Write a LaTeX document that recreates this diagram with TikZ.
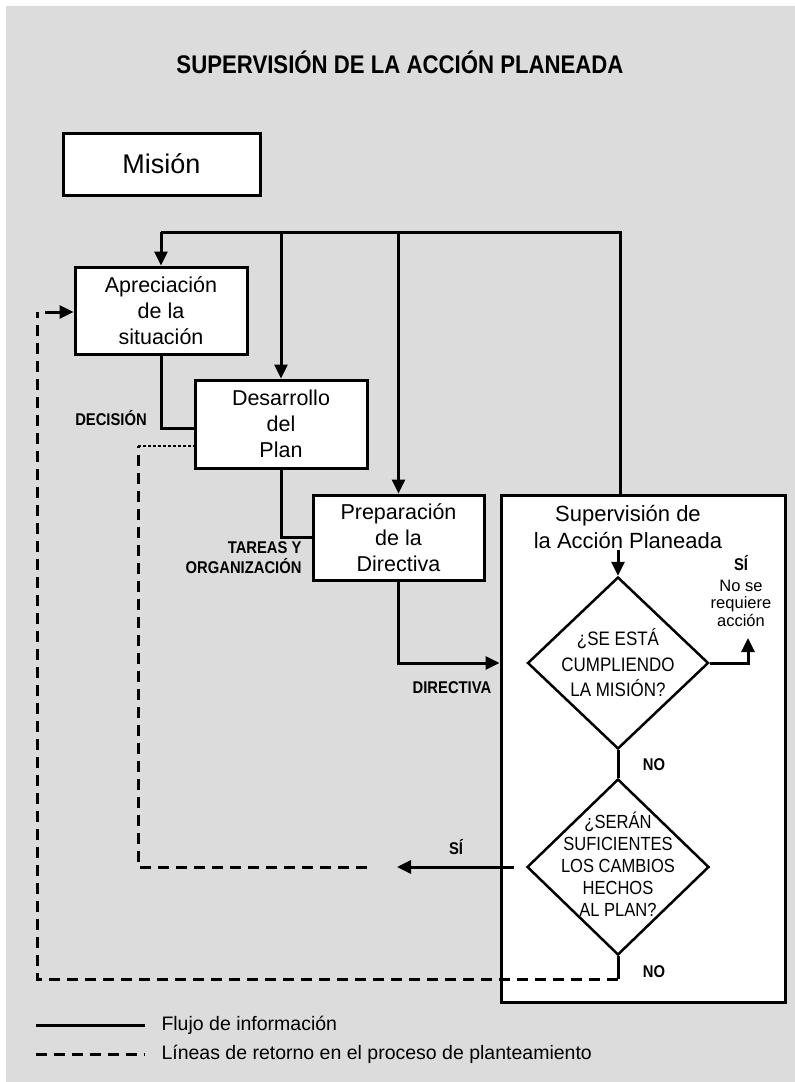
\documentclass[tikz,border=0pt]{standalone}
\usepackage{fontspec}
\setmainfont{Liberation Sans}
\newfontfamily\narrowfont[FakeStretch=0.87]{Liberation Sans}
\usetikzlibrary{shapes.geometric,arrows.meta,calc}
\definecolor{bg}{HTML}{DCDCDC}
\begin{document}
\begin{tikzpicture}[x=1pt,y=-1pt,
  every path/.style={line width=3pt},
  box/.style={draw,line width=3pt,fill=white,inner sep=0pt,align=center,
    font=\fontsize{21.5}{26}\selectfont},
  decision/.style={draw,diamond,line width=2.5pt,fill=white,inner sep=0pt},
  qtext/.style={align=center,inner sep=0pt},
  tag/.style={font=\narrowfont\bfseries\fontsize{17}{20}\selectfont,inner sep=0pt},
  flow/.style={-{Triangle[length=14pt,width=13pt]}},
  ret/.style={dash pattern=on 11pt off 7pt},
]
% page and background
\useasboundingbox (0,0) rectangle (795,1082);
\fill[white] (0,0) rectangle (795,1082);
\fill[bg] (6,6) rectangle (795,1082);

% title
\node[font=\narrowfont\bfseries\fontsize{25.5}{30}\selectfont] (title) at (400,62)
  {SUPERVISIÓN DE LA ACCIÓN PLANEADA};

% main boxes
\node[box,minimum width=197pt,minimum height=62pt,font=\fontsize{27}{32}\selectfont]
  (mision) at (161.5,164) {Misión};
\node[box,minimum width=172pt,minimum height=87pt] (aprec) at (161,310.5)
  {Apreciación\\de la\\situación};
\node[box,minimum width=172pt,minimum height=88pt] (desar) at (281,424)
  {Desarrollo\\del\\Plan};
\node[box,minimum width=171pt,minimum height=85pt] (prep) at (398.5,537.5)
  {Preparación\\de la\\Directiva};
\node[draw,line width=3pt,fill=white,minimum width=284pt,minimum height=507pt,inner sep=0pt]
  (supbox) at (643,748.5) {};

% supervision block contents
\node[align=center,inner sep=0pt,font=\fontsize{22}{27}\selectfont] (suptitle) at (628,527)
  {Supervisión de\\la Acción Planeada};
\node[decision,minimum width=181pt,minimum height=172pt] (d1) at (618,663) {};
\node[qtext,font=\narrowfont\fontsize{19.5}{25.5}\selectfont] (d1t) at (618,663)
  {¿SE ESTÁ\\CUMPLIENDO\\LA MISIÓN?};
\node[decision,minimum width=182pt,minimum height=176pt] (d2) at (618,867) {};
\node[qtext,font=\narrowfont\fontsize{19}{22}\selectfont] (d2t) at (618,864)
  {¿SERÁN\\SUFICIENTES\\LOS CAMBIOS\\HECHOS\\AL PLAN?};
\node[tag] (sisup) at (741,563) {SÍ};
\node[qtext,font=\fontsize{16.5}{17.5}\selectfont] (noreq) at (741,603)
  {No se\\requiere\\acción};
\coordinate (tipok) at (748,638);

% connector labels
\node[tag] (ldec) at (111,418) {DECISIÓN};
\node[tag,align=right,anchor=east] (ltar) at (303,558) {TAREAS Y\\ORGANIZACIÓN};
\node[tag] (ldir) at (452,688) {DIRECTIVA};
\node[tag] (lno1) at (654,765) {NO};
\node[tag] (lno2) at (654,972) {NO};
\node[tag] (lsi2) at (456,847) {SÍ};

% information bus from the mission
\coordinate (busL) at (161,232);
\coordinate (busR) at (620,232);
\draw (busL) -- (busR) -- (busR |- supbox.north);
\draw[flow] (busL) -- (aprec.north);
\draw[flow] (desar.north |- busL) -- (desar.north);
\draw[flow] (prep.north |- busL) -- (prep.north);

% planning sequence
\draw (aprec.south) |- ([yshift=-4pt]desar.west);
\draw (desar.south) |- (prep.west);
\draw[flow] (prep.south) |- (supbox.west |- d1.west);

% supervision decisions
\draw[flow] (d1.north |- suptitle.south) -- (d1.north);
\draw[flow] (d1.east) -| (tipok);
\draw (d1.south) -- (d2.north);
\coordinate (sitip) at (397,867);
\draw[flow] ([xshift=-12pt]d2.west) -- (sitip);

% return lines
\coordinate (r1a) at (367,867);
\coordinate (r1b) at (138,867);
\coordinate (r1c) at (138,446);
\draw[ret] (r1a) -- (r1b) -- (r1c);
\draw[dotted,line width=2.5pt] (r1c) -- (desar.west |- r1c);

\coordinate (r2a) at (618,979);
\coordinate (r2b) at (37,979);
\coordinate (r2c) at (37,312);
\draw (d2.south) -- (r2a);
\draw[ret] (r2a) -- (r2b) -- (r2c);
\draw[flow] (45,312) -- (aprec.west |- 0,312);

% legend
\coordinate (lg1a) at (36,1025);
\coordinate (lg1b) at (145,1025);
\coordinate (lg2a) at (36,1054);
\coordinate (lg2b) at (145,1054);
\draw (lg1a) -- (lg1b);
\draw[ret] (lg2a) -- (lg2b);
\node[anchor=west,inner sep=0pt,font=\fontsize{19.5}{22}\selectfont] (lgt1) at (160,1025)
  {Flujo de información};
\node[anchor=west,inner sep=0pt,font=\fontsize{19.5}{22}\selectfont] (lgt2) at (160,1054)
  {Líneas de retorno en el proceso de planteamiento};
\end{tikzpicture}
\end{document}
